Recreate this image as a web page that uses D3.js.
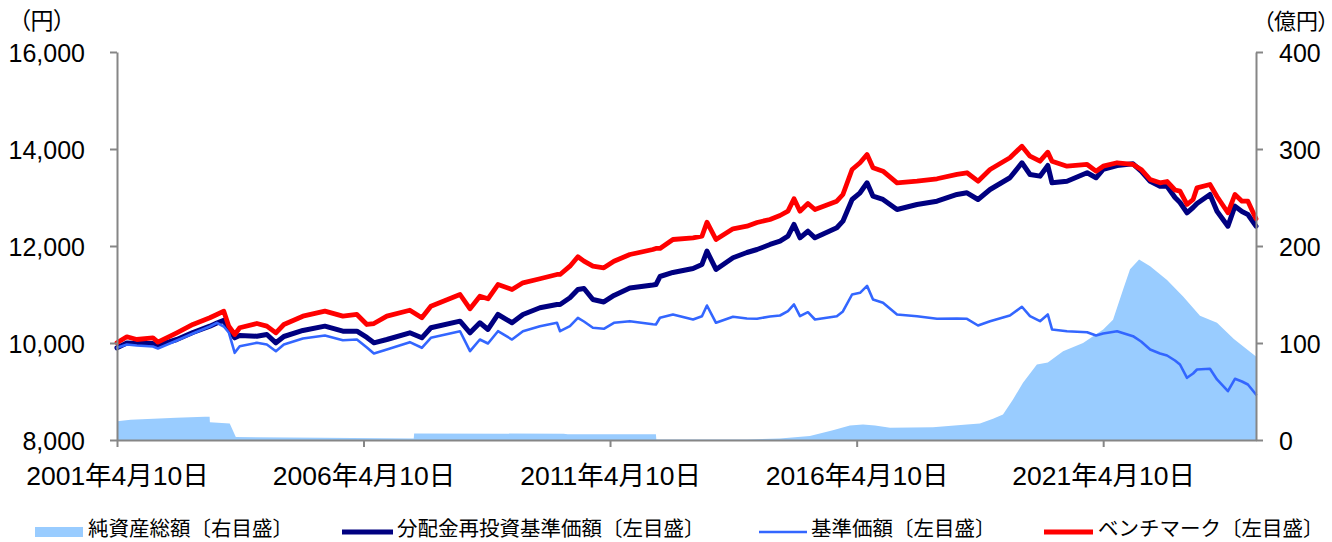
<!DOCTYPE html>
<html><head><meta charset="utf-8">
<script src="https://cdn.jsdelivr.net/npm/d3@7/dist/d3.min.js"></script>
<style>
html,body{margin:0;padding:0;background:#fff;}
svg{display:block;}
.num{font-family:"Liberation Sans",Arial,"Noto Sans CJK JP",sans-serif;font-size:25px;fill:#000;}
.jp{font-family:"Noto Sans CJK JP",sans-serif;fill:#000;}
</style></head><body>
<svg id="chart" width="1332" height="542"></svg>
<script>
// ---- data ----
const lineDates = ["2001-04-10","2001-06-22","2001-09-04","2002-01-01","2002-02-07","2002-06-27","2002-10-24","2003-02-27","2003-04-20","2003-06-10","2003-07-17","2003-08-30","2003-10-06","2004-02-10","2004-04-24","2004-06-30","2004-08-28","2005-01-16","2005-06-28","2005-11-08","2006-02-20","2006-05-05","2006-06-26","2006-09-30","2007-03-19","2007-06-16","2007-08-22","2008-03-25","2008-06-07","2008-08-19","2008-10-18","2008-12-31","2009-04-14","2009-07-04","2009-11-07","2010-03-13","2010-04-05","2010-06-17","2010-08-15","2010-09-29","2010-12-04","2011-02-23","2011-05-09","2011-09-04","2012-02-21","2012-03-15","2012-04-14","2012-07-19","2012-12-15","2013-02-19","2013-03-28","2013-06-03","2013-10-07","2014-01-18","2014-04-03","2014-07-08","2014-09-20","2014-11-18","2015-01-02","2015-02-15","2015-04-15","2015-06-06","2015-11-15","2015-12-30","2016-03-07","2016-05-05","2016-06-26","2016-08-09","2016-10-22","2017-02-03","2017-07-01","2017-11-26","2018-04-23","2018-07-06","2018-09-26","2018-12-24","2019-05-20","2019-08-17","2019-10-16","2019-12-29","2020-02-25","2020-03-27","2020-07-16","2020-12-12","2021-02-16","2021-04-10","2021-07-22","2021-11-17","2022-01-16","2022-03-24","2022-06-05","2022-07-27","2022-09-24","2022-10-31","2022-12-22","2023-02-05","2023-03-06","2023-06-10","2023-08-01","2023-10-21","2023-12-12","2024-02-02","2024-03-17","2024-05-16"];

// 分配金再投資基準価額（左目盛）
const reinvestValues = [9901,10000,9990,9990,9949,10072,10217,10347,10413,10470,10279,10107,10155,10140,10175,10004,10134,10258,10347,10243,10243,10114,10004,10072,10210,10107,10314,10450,10210,10417,10279,10588,10417,10588,10726,10794,10794,10932,11103,11124,10897,10846,10980,11134,11196,11206,11371,11454,11536,11619,11893,11516,11757,11866,11928,12031,12099,12202,12444,12169,12305,12169,12376,12512,12959,13097,13303,13027,12959,12753,12856,12924,13062,13097,12959,13165,13407,13716,13475,13440,13660,13303,13336,13510,13407,13578,13660,13695,13543,13336,13233,13233,13000,12897,12685,12794,12877,13062,12718,12409,12821,12712,12650,12409];

// 基準価額（左目盛）
const navValues = [9901,9969,9949,9928,9887,10052,10196,10340,10417,10340,10217,9798,9934,10004,9969,9831,9969,10093,10155,10058,10072,9907,9784,9866,10017,9901,10107,10243,9831,10072,9990,10243,10072,10243,10347,10417,10243,10347,10520,10443,10314,10293,10417,10450,10388,10382,10520,10588,10485,10553,10773,10417,10540,10505,10499,10547,10567,10656,10794,10553,10635,10485,10553,10650,11000,11035,11178,10897,10829,10588,10553,10499,10505,10499,10361,10450,10567,10747,10553,10450,10588,10279,10243,10223,10155,10196,10243,10140,10031,9866,9784,9742,9639,9557,9283,9371,9454,9468,9248,9006,9262,9206,9144,8938];

// ベンチマーク（左目盛）
const benchValues = [10004,10128,10072,10107,10017,10210,10382,10520,10588,10656,10347,10175,10314,10402,10347,10210,10382,10553,10656,10553,10588,10382,10402,10553,10676,10520,10759,11000,10705,10965,10912,11206,11103,11241,11324,11413,11413,11584,11778,11687,11584,11551,11687,11825,11928,11949,11949,12134,12169,12202,12491,12134,12355,12409,12485,12547,12629,12718,12974,12718,12877,12753,12924,13062,13578,13716,13887,13613,13543,13303,13336,13386,13475,13510,13336,13578,13819,14058,13852,13749,13934,13749,13646,13681,13543,13646,13716,13681,13578,13371,13303,13330,13155,13130,12856,12959,13200,13268,13021,12685,13062,12924,12924,12561];

// 純資産総額（右目盛, 億円）
const assetDates = ["2001-04-10","2001-07-20","2002-06-22","2003-01-20","2003-02-25","2003-02-27","2003-07-24","2003-09-07","2005-06-01","2007-04-17","2007-04-20","2010-05-01","2010-06-01","2012-03-15","2012-03-18","2014-01-18","2014-09-20","2015-04-29","2015-10-17","2016-02-20","2016-05-27","2016-08-24","2016-12-13","2017-10-27","2018-07-06","2018-10-10","2019-01-15","2019-03-30","2019-06-12","2019-08-25","2019-12-06","2020-02-25","2020-06-17","2020-11-12","2021-04-10","2021-06-22","2021-09-04","2021-10-26","2022-01-01","2022-03-24","2022-07-27","2022-11-23","2023-03-28","2023-08-01","2023-12-04","2024-05-16"];
const assetValues = [19.4,21,23,24,24,18.4,17,3,2.2,1.5,6.7,6.5,6,6,0.5,0.5,1.5,4,10,15,16,15,12.6,13.2,16,17,21.8,26.3,41.8,59,77.8,80,91.5,100,114,124,155,176,186,179,165,148,128,121,104,86];

const leftTicks = [8000,10000,12000,14000,16000];
const rightTicks = [0,100,200,300,400];
const xTickDates = ["2001-04-10","2006-04-10","2011-04-10","2016-04-10","2021-04-10"];
const legendLabels = ["純資産総額〔右目盛〕","分配金再投資基準価額〔左目盛〕","基準価額〔左目盛〕","ベンチマーク〔左目盛〕"];
const leftUnit = "（円）";
const rightUnit = "（億円）";

// ---- drawing ----
const parse = d3.timeParse("%Y-%m-%d");
const svg = d3.select("#chart");
const X0 = 117, X1 = 1256, YB = 440, YT = 52;

const x = d3.scaleTime().domain([parse(lineDates[0]), parse(lineDates[lineDates.length-1])]).range([X0, X1]);
const yL = d3.scaleLinear().domain([8000,16000]).range([YB, YT]);
const yR = d3.scaleLinear().domain([0,400]).range([YB, YT]);

const COLORS = {area:"#99CCFF", reinvest:"#000080", nav:"#3366FF", bench:"#FF0000"};

// area
const assetData = assetDates.map((d,i)=>({d:parse(d), v:assetValues[i]}));
svg.append("path").datum(assetData)
  .attr("fill", COLORS.area)
  .attr("d", d3.area().x(p=>x(p.d)).y0(yR(0)).y1(p=>yR(p.v)));

function drawLine(vals, color, w){
  const data = lineDates.map((d,i)=>({d:parse(d), v:vals[i]}));
  svg.append("path").datum(data)
    .attr("fill","none").attr("stroke",color).attr("stroke-width",w)
    .attr("stroke-linejoin","round").attr("stroke-linecap","round")
    .attr("d", d3.line().x(p=>x(p.d)).y(p=>yL(p.v)));
}
drawLine(reinvestValues, COLORS.reinvest, 5);
drawLine(navValues, COLORS.nav, 2.6);
drawLine(benchValues, COLORS.bench, 4.8);

const AX = "#868686";
function styleAxis(g){
  g.select(".domain").attr("stroke", AX).attr("stroke-width", 2);
  g.selectAll(".tick line").attr("stroke", AX).attr("stroke-width", 2);
  g.selectAll(".tick text").attr("class","num").attr("fill","#000");
}

// bottom axis
const gx = svg.append("g").attr("transform",`translate(0,${YB})`)
  .call(d3.axisBottom(x).tickValues(xTickDates.map(parse)).tickSize(7).tickSizeOuter(0)
    .tickFormat(d3.timeFormat("%Y年%-m月%-d日")));
styleAxis(gx);
gx.selectAll(".tick text").attr("y", 45).attr("dy", null).style("font-size","26.5px");

// left axis
const gl = svg.append("g").attr("transform",`translate(${X0},0)`)
  .call(d3.axisLeft(yL).tickValues(leftTicks).tickSize(7).tickSizeOuter(0).tickPadding(25).tickFormat(d3.format(",")));
styleAxis(gl);
gl.selectAll(".tick text").attr("dy", "0.36em");

// right axis
const gr = svg.append("g").attr("transform",`translate(${X1},0)`)
  .call(d3.axisRight(yR).tickValues(rightTicks).tickSize(7).tickSizeOuter(0).tickPadding(16).tickFormat(d3.format("d")));
styleAxis(gr);
gr.selectAll(".tick text").attr("dy", "0.36em");

// units
svg.append("text").attr("class","jp").attr("x",19).attr("y",29)
  .style("font-size","23px").style("font-feature-settings","'palt'").text(leftUnit);
svg.append("text").attr("class","jp").attr("x",1263).attr("y",29)
  .style("font-size","22px").style("font-feature-settings","'palt'").text(rightUnit);

// legend
const LY = 532;
const lg = svg.append("g");
lg.append("rect").attr("x",35).attr("y",LY-5).attr("width",48).attr("height",10).attr("fill",COLORS.area);
lg.append("line").attr("x1",342).attr("x2",393).attr("y1",LY).attr("y2",LY).attr("stroke",COLORS.reinvest).attr("stroke-width",5);
lg.append("line").attr("x1",759).attr("x2",807).attr("y1",LY).attr("y2",LY).attr("stroke",COLORS.nav).attr("stroke-width",2.6);
lg.append("line").attr("x1",1044).attr("x2",1093).attr("y1",LY).attr("y2",LY).attr("stroke",COLORS.bench).attr("stroke-width",5);
const textX = [88, 397, 811, 1098];
legendLabels.forEach((t,i)=>{
  lg.append("text").attr("class","jp").attr("x",textX[i]).attr("y",536)
    .style("font-size","20.5px").text(t);
});
</script>
</body></html>
